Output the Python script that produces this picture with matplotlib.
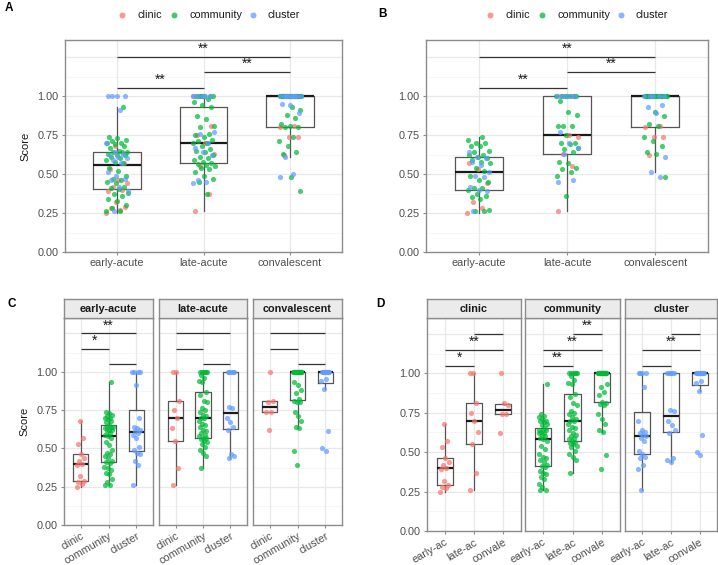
import matplotlib
matplotlib.use('Agg')
import matplotlib.pyplot as plt
from matplotlib.lines import Line2D
import numpy as np

plt.rcParams['font.family'] = ['Liberation Sans', 'DejaVu Sans']

phases = ['early-acute', 'late-acute', 'convalescent']
phase_short = ['early-ac', 'late-ac', 'convale']
groups = ['clinic', 'community', 'cluster']
group_colors = ['#F8766D', '#00BA38', '#619CFF']
y_ticks = [0.0, 0.25, 0.50, 0.75, 1.00]
y_tick_labels = ['0.00', '0.25', '0.50', '0.75', '1.00']

# ---- data for panels A, C, D (scores per phase and group) ----
early_clinic = [0.25, 0.27, 0.28, 0.29, 0.32, 0.39, 0.40, 0.42, 0.44, 0.46, 0.53, 0.57, 0.68]
early_community = [0.26, 0.26, 0.28, 0.30, 0.33, 0.34, 0.36, 0.37, 0.38, 0.405, 0.41, 0.42, 0.44, 0.45,
                   0.46, 0.47, 0.49, 0.52, 0.54, 0.57, 0.58, 0.59, 0.60, 0.61, 0.62, 0.62, 0.63, 0.64,
                   0.64, 0.64, 0.65, 0.67, 0.68, 0.69, 0.70, 0.70, 0.71, 0.72, 0.73, 0.74, 0.93]
early_cluster = [0.26, 0.39, 0.42, 0.46, 0.47, 0.49, 0.51, 0.57, 0.59, 0.60, 0.61, 0.62, 0.63, 0.64,
                 0.70, 0.91, 1.00, 1.00, 1.00, 1.00]
late_clinic = [0.26, 0.37, 0.55, 0.63, 0.70, 0.75, 0.81, 1.00, 1.00]
late_community = [0.37, 0.45, 0.47, 0.49, 0.51, 0.53, 0.54, 0.55, 0.56, 0.565, 0.57, 0.58, 0.59, 0.60,
                  0.61, 0.62, 0.64, 0.65, 0.66, 0.68, 0.70, 0.70, 0.71, 0.72, 0.74, 0.75, 0.76, 0.80,
                  0.81, 0.85, 0.87, 0.93, 0.94, 0.96, 0.98, 1.00, 1.00, 1.00, 1.00, 1.00, 1.00]
late_cluster = [0.44, 0.45, 0.46, 0.62, 0.64, 0.67, 0.70, 0.76, 0.77, 1.00, 1.00, 1.00, 1.00, 1.00]
conv_clinic = [0.62, 0.74, 0.74, 0.80, 0.81, 1.00]
conv_community = [0.39, 0.48, 0.63, 0.64, 0.68, 0.71, 0.74, 0.80, 0.805, 0.81, 0.82, 0.86, 0.88, 0.91,
                  0.93, 1.00, 1.00, 1.00, 1.00, 1.00, 1.00, 1.00, 1.00, 1.00, 1.00, 1.00, 1.00, 1.00,
                  1.00, 1.00, 1.00, 1.00, 1.00, 1.00, 1.00, 1.00, 1.00, 1.00, 1.00]
conv_cluster = [0.48, 0.50, 0.61, 0.89, 0.94, 0.95, 1.00, 1.00, 1.00, 1.00, 1.00, 1.00, 1.00, 1.00,
                1.00, 1.00]

# ---- data for panel B ----
b_early_clinic = [0.25, 0.28, 0.32, 0.44, 0.53, 0.57]
b_early_community = [0.26, 0.26, 0.27, 0.34, 0.35, 0.36, 0.37, 0.40, 0.41, 0.41, 0.45, 0.46, 0.49, 0.52,
                     0.54, 0.57, 0.58, 0.59, 0.60, 0.61, 0.62, 0.62, 0.64, 0.65, 0.68, 0.68, 0.70, 0.70,
                     0.72, 0.74]
b_early_cluster = [0.26, 0.39, 0.40, 0.42, 0.48, 0.49, 0.51, 0.56, 0.58, 0.60, 0.61, 0.64]
b_late_clinic = [0.26, 0.55, 0.63, 0.74, 0.75, 1.00, 1.00]
b_late_community = [0.36, 0.49, 0.51, 0.53, 0.54, 0.57, 0.58, 0.64, 0.66, 0.67, 0.69, 0.70, 0.70, 0.75,
                    0.81, 0.81, 0.81, 0.88, 0.90, 0.97, 1.00, 1.00, 1.00, 1.00, 1.00, 1.00, 1.00]
b_late_cluster = [0.45, 0.46, 0.63, 0.67, 0.70, 0.77, 1.00, 1.00, 1.00, 1.00, 1.00]
b_conv_clinic = [0.62, 0.74, 0.74, 0.80, 0.81, 1.00]
b_conv_community = [0.48, 0.63, 0.64, 0.68, 0.71, 0.74, 0.81, 0.82, 0.87, 0.90, 1.00, 1.00, 1.00, 1.00,
                    1.00, 1.00, 1.00, 1.00, 1.00, 1.00, 1.00, 1.00, 1.00, 1.00, 1.00, 1.00, 1.00, 1.00,
                    1.00, 1.00, 1.00, 1.00]
b_conv_cluster = [0.48, 0.51, 0.61, 0.89, 0.93, 0.94, 1.00, 1.00, 1.00, 1.00, 1.00]

# significance annotations: (from, to, height, label)
sig_A = [(1, 2, 1.053, '**'), (2, 3, 1.154, '**'), (1, 3, 1.252, '**')]
sig_B = [(1, 2, 1.053, '**'), (2, 3, 1.154, '**'), (1, 3, 1.252, '**')]
sig_C = [[(2, 3, 1.048, ''), (1, 2, 1.148, '*'), (1, 3, 1.250, '**')],
         [(2, 3, 1.048, ''), (1, 2, 1.148, ''), (1, 3, 1.250, '')],
         [(2, 3, 1.048, ''), (1, 2, 1.148, ''), (1, 3, 1.250, '')]]
sig_D = [[(1, 2, 1.048, '*'), (1, 3, 1.150, '**'), (2, 3, 1.250, '')],
         [(1, 2, 1.048, '**'), (1, 3, 1.150, '**'), (2, 3, 1.250, '**')],
         [(1, 2, 1.048, ''), (1, 3, 1.150, '**'), (2, 3, 1.250, '')]]

data_main = [[early_clinic, early_community, early_cluster],
             [late_clinic, late_community, late_cluster],
             [conv_clinic, conv_community, conv_cluster]]
data_b = [[b_early_clinic, b_early_community, b_early_cluster],
          [b_late_clinic, b_late_community, b_late_cluster],
          [b_conv_clinic, b_conv_community, b_conv_cluster]]

W, H = 718, 565
fig = plt.figure(figsize=(W / 100, H / 100), dpi=100)

BORDER = '#8C8C8C'
GRID_MAJ = '#E8E8E8'
GRID_MIN = '#F5F5F5'
TXT = '#4D4D4D'
FS = 7.8


def px_axes(l, t, r, b):
    return fig.add_axes([l / W, 1 - b / H, (r - l) / W, (b - t) / H])


def jitter(n, width, phase):
    k = np.arange(n)
    return ((k * 0.6180339887 + phase) % 1.0 - 0.5) * 2 * width


def style(ax, top, show_y):
    ax.set_xlim(0.4, 3.6)
    ax.set_ylim(0, top)
    for y in [0.125, 0.375, 0.625, 0.875, 1.125]:
        ax.axhline(y, color=GRID_MIN, lw=0.6, zorder=0)
    for y in [0.0, 0.25, 0.5, 0.75, 1.0, 1.25]:
        ax.axhline(y, color=GRID_MAJ, lw=0.9, zorder=0)
    for x in [1, 2, 3]:
        ax.axvline(x, color=GRID_MAJ, lw=0.9, zorder=0)
    for s in ax.spines.values():
        s.set_color(BORDER)
        s.set_linewidth(1.0)
    ax.set_yticks(y_ticks)
    if show_y:
        ax.set_yticklabels(y_tick_labels)
    else:
        ax.set_yticklabels([])
    ax.set_xticks([1, 2, 3])
    ax.tick_params(axis='both', length=2.5, width=0.8, color=BORDER, labelsize=FS,
                   labelcolor=TXT, pad=2)
    if not show_y:
        ax.tick_params(axis='y', length=0)


def boxes(ax, arrays, width):
    ax.boxplot(arrays, positions=[1, 2, 3], widths=width, whis=1.5, showfliers=False,
               showcaps=False, manage_ticks=False,
               boxprops=dict(color='#555555', lw=0.9),
               whiskerprops=dict(color='#555555', lw=0.9),
               medianprops=dict(color='#1a1a1a', lw=1.6), zorder=2)


def brackets(ax, sigs):
    for x1, x2, y, lab in sigs:
        ax.plot([x1, x2], [y, y], color='#333333', lw=0.9, zorder=4, solid_capstyle='butt')
        if lab:
            ax.text((x1 + x2) / 2, y + 0.006, lab, ha='center', va='bottom', fontsize=10,
                    color='#1a1a1a', zorder=5)


def legend(xs_dot, xs_txt, y):
    for xd, xt, g, c in zip(xs_dot, xs_txt, groups, group_colors):
        fig.add_artist(Line2D([xd / W], [1 - y / H], marker='o', ms=4.3, color=c, alpha=0.75,
                              mec='none', ls='none', transform=fig.transFigure))
        fig.text(xt / W, 1 - y / H, g, ha='left', va='center', fontsize=FS, color='#1a1a1a')


def panel_overall(ax, data, sigs):
    style(ax, 1.36, True)
    combined = [sum(data[p], []) for p in range(3)]
    boxes(ax, combined, 0.55)
    for p in range(3):
        n_tot = len(combined[p])
        offs = jitter(n_tot, 0.13, 0.11 * p)
        k = 0
        for g in range(3):
            vals = np.array(data[p][g])
            ax.scatter(p + 1 + offs[k:k + len(vals)], vals, s=14, color=group_colors[g],
                       alpha=0.72, lw=0, zorder=3)
            k += len(vals)
    brackets(ax, sigs)
    ax.set_xticklabels(phases)


# ---- Panel A ----
axA = px_axes(65, 40, 342, 252)
panel_overall(axA, data_main, sig_A)
axA.set_ylabel('Score', fontsize=FS + 0.2, color='#1a1a1a', labelpad=5)
legend([122, 174, 253], [137, 189, 268], 15)

# ---- Panel B ----
axB = px_axes(426, 40, 708, 252)
panel_overall(axB, data_b, sig_B)
legend([490, 542, 621], [505, 557, 636], 15)


def strip(l, r, label):
    sax = px_axes(l, 299, r, 318)
    sax.set_xlim(0, 1)
    sax.set_ylim(0, 1)
    sax.set_facecolor('#EBEBEB')
    sax.set_xticks([])
    sax.set_yticks([])
    for s in sax.spines.values():
        s.set_color(BORDER)
        s.set_linewidth(1.0)
    sax.text(0.5, 0.5, label, ha='center', va='center', fontsize=FS, fontweight='bold',
             color='#1a1a1a')


ROT = 30

# ---- Panel C ----
C_lr = [(64, 153), (159, 247), (253, 342)]
for p in range(3):
    l, r = C_lr[p]
    ax = px_axes(l, 318, r, 525)
    style(ax, 1.35, p == 0)
    boxes(ax, data_main[p], 0.55)
    for g in range(3):
        vals = np.array(data_main[p][g])
        offs = jitter(len(vals), 0.15, 0.07 * g + 0.2 * p)
        ax.scatter(g + 1 + offs, vals, s=14, color=group_colors[g], alpha=0.72, lw=0, zorder=3)
    brackets(ax, sig_C[p])
    ax.set_xticklabels(groups, rotation=ROT, ha='right', rotation_mode='anchor')
    if p == 0:
        ax.set_ylabel('Score', fontsize=FS + 0.2, color='#1a1a1a', labelpad=5)
    strip(l, r, phases[p])

# ---- Panel D ----
D_lr = [(427, 521), (525, 620), (625, 717)]
for g in range(3):
    l, r = D_lr[g]
    ax = px_axes(l, 318, r, 531)
    style(ax, 1.35, g == 0)
    arrays = [data_main[p][g] for p in range(3)]
    boxes(ax, arrays, 0.55)
    for p in range(3):
        vals = np.array(arrays[p])
        offs = jitter(len(vals), 0.15, 0.07 * p + 0.2 * g)
        ax.scatter(p + 1 + offs, vals, s=14, color=group_colors[g], alpha=0.72, lw=0, zorder=3)
    brackets(ax, sig_D[g])
    ax.set_xticklabels(phase_short, rotation=ROT, ha='right', rotation_mode='anchor')
    strip(l, r, groups[g])

# panel letters
for lab, x, y in [('A', 5, 8), ('B', 378, 14), ('C', 7, 304), ('D', 376, 304)]:
    fig.text(x / W, 1 - y / H, lab, ha='left', va='center', fontsize=8.5, fontweight='bold')

fig.savefig('out.png', dpi=100)
